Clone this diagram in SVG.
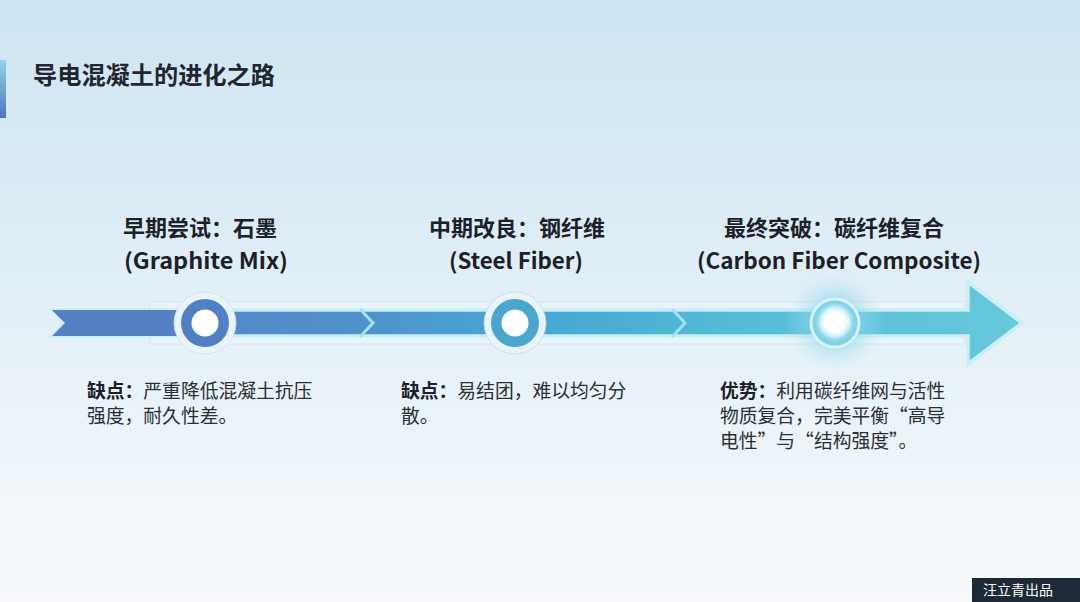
<svg xmlns="http://www.w3.org/2000/svg" width="1080" height="602" viewBox="0 0 1080 602">
<defs>
<linearGradient id="bg" x1="0" y1="0" x2="0" y2="1">
<stop offset="0" stop-color="#cfe5f2"/>
<stop offset="0.45" stop-color="#e0eef6"/>
<stop offset="1" stop-color="#f8fafc"/>
</linearGradient>
<linearGradient id="accent" x1="0" y1="0" x2="0" y2="1">
<stop offset="0" stop-color="#8fd3ea"/>
<stop offset="1" stop-color="#4a78c0"/>
</linearGradient>
<linearGradient id="band" x1="52" y1="0" x2="1022" y2="0" gradientUnits="userSpaceOnUse">
<stop offset="0" stop-color="#5680c4"/>
<stop offset="0.32" stop-color="#4f92cc"/>
<stop offset="0.5" stop-color="#47a8d2"/>
<stop offset="0.7" stop-color="#52bcd7"/>
<stop offset="1" stop-color="#68c8dc"/>
</linearGradient>
<radialGradient id="glow" cx="0.5" cy="0.5" r="0.5">
<stop offset="0" stop-color="#7fe0f0" stop-opacity="0.9"/>
<stop offset="0.5" stop-color="#8ad8ea" stop-opacity="0.5"/>
<stop offset="1" stop-color="#bfe8f3" stop-opacity="0"/>
</radialGradient>
<filter id="blur1" x="-50%" y="-50%" width="200%" height="200%"><feGaussianBlur stdDeviation="2"/></filter>
<style>
.title{font-family:"Noto Sans CJK SC","Noto Sans",sans-serif;font-weight:700;fill:#1f2630}
.stage{font-family:"Noto Sans CJK SC","Noto Sans",sans-serif;font-weight:700;font-size:22px;fill:#1c2129;text-anchor:middle}
.desc{font-family:"Noto Sans CJK SC","Noto Sans",sans-serif;font-size:18.8px;fill:#2a2f36}
.b{font-weight:700;fill:#1c2129}
.chev{fill:none;stroke:#a9def0;stroke-width:3}
</style>
</defs>
<rect x="0" y="0" width="1080" height="602" fill="url(#bg)"/>
<rect x="0" y="60" width="6" height="58" fill="url(#accent)"/>
<text class="title" x="33" y="84" font-size="24.2">导电混凝土的进化之路</text>

<g id="connectors">
<rect x="150" y="302" width="815" height="42" fill="#e8f4f9" stroke="#cfe1ea" stroke-width="0.8"/>
<path d="M52,310 L968,310 L968,282 L1022,323 L968,364 L968,336 L52,336 L65,323 Z" fill="url(#band)" stroke="#c9eef6" stroke-width="3.5" stroke-linejoin="miter"/>
<path d="M52,310 L200,310 L200,336 L52,336 L65,323 Z" fill="#5680c4"/>
<polyline class="chev" points="360,309 373,323 360,337"/>
<polyline class="chev" points="672,309 685,323 672,337"/>
</g>

<g id="node1">
<circle cx="205" cy="323" r="31" fill="#e8f4f9" stroke="#cfe1ea" stroke-width="0.8"/>
<circle cx="205" cy="323" r="24" fill="#517fc4"/>
<circle cx="205" cy="323" r="13.5" fill="#ffffff"/>
<text class="stage" x="200" y="236">早期尝试：石墨</text>
<text class="stage" x="206" y="269" textLength="164" lengthAdjust="spacingAndGlyphs">(Graphite Mix)</text>
<text class="desc"><tspan x="87" y="398"><tspan class="b">缺点：</tspan>严重降低混凝土抗压</tspan><tspan x="87" y="423">强度，耐久性差。</tspan></text>
</g>

<g id="node2">
<circle cx="515" cy="323" r="31" fill="#e8f4f9" stroke="#c4d9e4" stroke-width="0.8"/>
<circle cx="515" cy="323" r="24" fill="#4aa6cf"/>
<circle cx="515" cy="323" r="13.5" fill="#ffffff"/>
<text class="stage" x="517" y="236">中期改良：钢纤维</text>
<text class="stage" x="516" y="269" textLength="134" lengthAdjust="spacingAndGlyphs">(Steel Fiber)</text>
<text class="desc"><tspan x="401" y="398"><tspan class="b">缺点：</tspan>易结团，难以均匀分</tspan><tspan x="401" y="423">散。</tspan></text>
</g>

<g id="node3">
<circle cx="835" cy="322" r="50" fill="url(#glow)"/>
<circle cx="835" cy="323" r="24" fill="#7fd3e6" stroke="#d6f3f8" stroke-width="3"/>
<circle cx="835" cy="322" r="16" fill="#eafcff" filter="url(#blur1)"/>
<circle cx="835" cy="322" r="11" fill="#ffffff"/>
<text class="stage" x="834" y="236">最终突破：碳纤维复合</text>
<text class="stage" x="839" y="269" textLength="284" lengthAdjust="spacingAndGlyphs">(Carbon Fiber Composite)</text>
<text class="desc"><tspan x="720" y="398"><tspan class="b">优势：</tspan>利用碳纤维网与活性</tspan><tspan x="720" y="423">物质复合，完美平衡“高导</tspan><tspan x="720" y="448">电性”与“结构强度”。</tspan></text>
</g>

<g id="watermark">
<rect x="972" y="578" width="108" height="24" fill="#1e2a38"/>
<text x="1018" y="595" font-family="Noto Sans CJK SC,sans-serif" font-size="14" fill="#ffffff" text-anchor="middle">汪立青出品</text>
</g>
</svg>
